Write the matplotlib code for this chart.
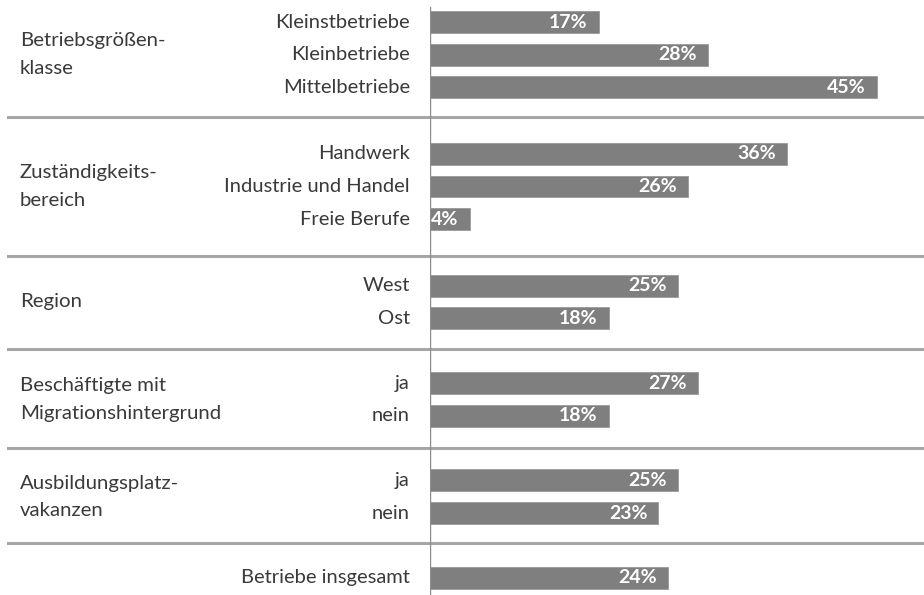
import numpy as np
import matplotlib.pyplot as plt
import matplotlib.transforms as mtransforms

plt.rcParams['font.family'] = ['Lato', 'DejaVu Sans']

# Data
groups = ['Betriebsgrößen-\nklasse', 'Zuständigkeits-\nbereich', 'Region',
          'Beschäftigte mit\nMigrationshintergrund', 'Ausbildungsplatz-\nvakanzen', '']
categories = [
    ['Kleinstbetriebe', 'Kleinbetriebe', 'Mittelbetriebe'],
    ['Handwerk', 'Industrie und Handel', 'Freie Berufe'],
    ['West', 'Ost'],
    ['ja', 'nein'],
    ['ja', 'nein'],
    ['Betriebe insgesamt'],
]
values = [
    [17, 28, 45],
    [36, 26, 4],
    [25, 18],
    [27, 18],
    [25, 23],
    [24],
]

bar_color = '#7f7f7f'
text_color = '#3a3a3a'
line_color = '#a6a6a6'

W, H = 924, 595
fig = plt.figure(figsize=(W / 100, H / 100), dpi=100)

# row layout: 1 unit between rows; gaps above/below each separator
unit_px = 32.7
top_px = 22
gap_after = [0.9, 1.13, 0.95, 1.0, 0.9]
gap_before = [1.13, 0.9, 1.03, 0.98, 1.07]
ax = fig.add_axes([430 / W, 0, 1 - 430 / W, 1])
ax.set_xlim(0, (W - 430) / 9.93)
ax.set_ylim((H - top_px) / unit_px, -top_px / unit_px)
ax.axis('off')

blend = mtransforms.blended_transform_factory(fig.transFigure, ax.transData)

y = 0.0
for g, (grp, cats, vals) in enumerate(zip(groups, categories, values)):
    ys = y + np.arange(len(cats))
    ax.barh(ys, vals, height=0.67, color=bar_color, edgecolor='#9a9a9a', linewidth=0.6)
    for yy, c, v in zip(ys, cats, vals):
        ax.annotate(f'{v}%', (v, yy), xytext=(-8, 0), textcoords='offset points',
                    ha='right', va='center', color='white', fontsize=14, fontweight='bold')
        ax.annotate(c, (0, yy), xytext=(-14.5, 0), textcoords='offset points',
                    ha='right', va='center', color=text_color, fontsize=14.5)
    if grp:
        ax.text(20 / W, ys.mean(), grp, transform=blend, ha='left', va='center',
                color=text_color, fontsize=14.7, linespacing=1.75)
    y = ys[-1]
    if g < len(groups) - 1:
        sep = y + gap_after[g]
        ax.plot([8 / W, 1], [sep, sep], transform=blend, color=line_color,
                lw=2.2, clip_on=False)
        y = sep + gap_before[g]

ax.axvline(0, ymin=0, ymax=1 - 7 / H, color='#8c8c8c', lw=1)

fig.savefig('out.png', dpi=100)
